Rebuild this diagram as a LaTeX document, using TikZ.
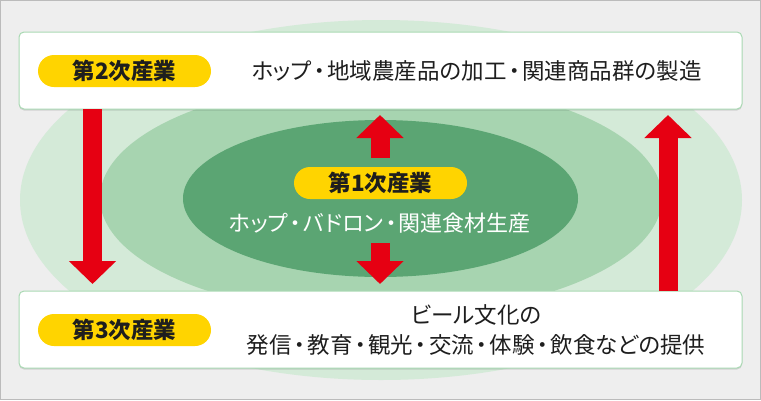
\documentclass[tikz,border=0pt]{standalone}
\usepackage{fontspec}
\newfontfamily\jp[RawFeature=+palt]{Noto Sans CJK JP}
\newcommand\nakaguro{\hspace{0.1em}・\hspace{0.1em}}
\usetikzlibrary{arrows.meta,shadows,shapes.geometric}
\definecolor{bgc}{HTML}{EEEEEE}
\definecolor{framec}{HTML}{BBBBBB}
\definecolor{gouter}{HTML}{D4EAD8}
\definecolor{gmid}{HTML}{A7D4B0}
\definecolor{gdark}{HTML}{5BA573}
\definecolor{boxline}{HTML}{A9D9B3}
\definecolor{pillc}{HTML}{FFD400}
\definecolor{arrowred}{HTML}{E60012}
\definecolor{txt}{HTML}{1E1E1E}
\tikzset{
  panel/.style={draw=boxline, line width=1pt, fill=white, rounded corners=5pt,
    minimum width=723pt, minimum height=77pt, inner sep=0pt,
    drop shadow={shadow xshift=0pt, shadow yshift=-1.5pt, opacity=0.12, fill=black}},
  pill/.style={fill=pillc, rounded corners=16pt, minimum width=173pt, minimum height=32pt,
    inner sep=0pt, font=\jp\bfseries\fontsize{22.5}{25}\selectfont, text=txt},
  bodytext/.style={font=\jp\fontsize{22.5}{30}\selectfont, text=txt, align=center, inner sep=0pt},
  redarrow/.style={draw=arrowred, line width=19pt,
    -{Triangle[width=46pt,length=23pt]}}
}
\begin{document}
\begin{tikzpicture}[x=1pt,y=-1pt]
\useasboundingbox (0,0) rectangle (761,400);
\fill[bgc] (0,0) rectangle (761,400);
\draw[framec, line width=1pt] (0.5,0.5) rectangle (760.5,399.5);
% ellipses
\node[ellipse, fill=gouter, minimum width=722pt, minimum height=360pt, inner sep=0pt] (e3) at (381,200) {};
\node[ellipse, fill=gmid, minimum width=562pt, minimum height=236pt, inner sep=0pt] (e2) at (381,198) {};
\node[ellipse, fill=gdark, minimum width=395pt, minimum height=157pt, inner sep=0pt] (e1) at (380.5,198.5) {};
% panels
\node[panel] (box2) at (380.5,70.5) {};
\node[panel] (box3) at (380.5,329.5) {};
% arrow end coordinates
\coordinate (aLs) at (92.5,109);
\coordinate (aLe) at (92.5,284);
\coordinate (aRs) at (668,291);
\coordinate (aRe) at (668,115);
\coordinate (aUs) at (380,158);
\coordinate (aUe) at (380,115);
\coordinate (aDs) at (380,243);
\coordinate (aDe) at (380,284);
\draw[redarrow] (aLs) -- (aLe);
\draw[redarrow] (aRs) -- (aRe);
\draw[redarrow] (aUs) -- (aUe);
\draw[redarrow] (aDs) -- (aDe);
% pills and texts
\node[pill] (p2) at (124.5,71) {第2次産業};
\node[pill] (p3) at (124.5,330) {第3次産業};
\node[pill] (p1) at (380.5,183) {第1次産業};
\node[bodytext] (t2) at (476.5,71) {ホップ\nakaguro 地域農産品の加工\nakaguro 関連商品群の製造};
\node[bodytext, font=\jp\fontsize{22}{30}\selectfont, text=white] (t1) at (380,223) {ホップ\nakaguro バドロン\nakaguro 関連食材生産};
\node[bodytext] (t3) at (476,330) {ビール文化の\\発信\nakaguro 教育\nakaguro 観光\nakaguro 交流\nakaguro 体験\nakaguro 飲食などの提供};
\end{tikzpicture}
\end{document}
